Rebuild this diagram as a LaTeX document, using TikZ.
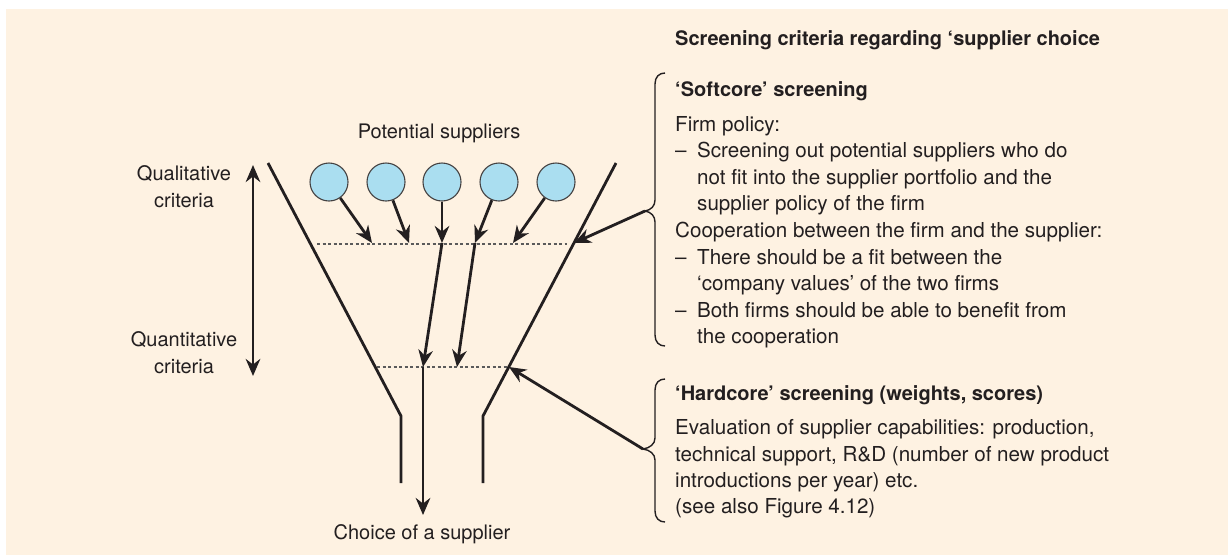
\documentclass[tikz,border=0pt]{standalone}
\usepackage{fontspec}
\setmainfont{TeX Gyre Heros}
\usetikzlibrary{arrows.meta}
\definecolor{bgc}{RGB}{254,242,226}
\definecolor{ink}{RGB}{35,31,32}
\definecolor{bluec}{RGB}{170,222,240}
\definecolor{dotc}{RGB}{90,90,90}
\newcommand{\dsh}{\makebox[22pt][l]{–}}
\begin{document}
\begin{tikzpicture}[x=1pt,y=-1pt,
  txt/.style={inner sep=0pt, text=ink, font=\fontsize{20}{24}\selectfont, anchor=base west},
  btxt/.style={txt, font=\fontsize{20.6}{24}\selectfont},
  ctxt/.style={txt, anchor=base},
  head/.style={txt, font=\fontsize{20}{24}\selectfont\bfseries},
  tip/.style={Stealth[length=17pt,width=14.5pt,inset=5.5pt]},
  arr/.style={draw=ink, line width=2.8pt, -{Stealth[length=17pt,width=14.5pt,inset=5.5pt]}},
  darr/.style={draw=ink, line width=2.8pt, {Stealth[length=17pt,width=14.5pt,inset=5.5pt]}-{Stealth[length=17pt,width=14.5pt,inset=5.5pt]}},
  funnel/.style={draw=ink, line width=2.8pt},
  dotl/.style={draw=dotc, line width=1.3pt, dash pattern=on 3pt off 2.5pt},
  bracel/.style={draw=ink, line width=1.4pt},
  sup/.style={circle, draw=ink!85, line width=1.1pt, fill=bluec, minimum size=38pt, inner sep=0pt}
]
\useasboundingbox (0,0) rectangle (1228,555);
\fill[bgc] (6,9) rectangle (1228,555);

% funnel
\coordinate (fl1) at (268,163); \coordinate (fl2) at (401,416); \coordinate (fl3) at (401,483);
\coordinate (fr1) at (616,163); \coordinate (fr2) at (483,416); \coordinate (fr3) at (483,483);
\draw[funnel] (fl1) -- (fl2) -- (fl3);
\draw[funnel] (fr1) -- (fr2) -- (fr3);

% dotted levels
\coordinate (d1a) at (317,244); \coordinate (d1b) at (567,244);
\coordinate (d2a) at (377,367); \coordinate (d2b) at (508,367);
\draw[dotl] (d1a) -- (d1b);
\draw[dotl] (d2a) -- (d2b);

% suppliers
\node[ctxt] (pot) at (439,138) {Potential suppliers};
\node[sup] (c1) at (329,182) {};
\node[sup] (c2) at (386,182) {};
\node[sup] (c3) at (442,182) {};
\node[sup] (c4) at (499,182) {};
\node[sup] (c5) at (556,182) {};

\coordinate (t1) at (372,243);
\coordinate (t2) at (409,243);
\coordinate (t3) at (442,243);
\coordinate (t4) at (475,243);
\coordinate (t5) at (513,243);
\draw[arr] (c1) -- (t1);
\draw[arr] (c2) -- (t2);
\draw[arr] (c3) -- (t3);
\draw[arr] (c4) -- (t4);
\draw[arr] (c5) -- (t5);

\coordinate (b1) at (423,367);
\coordinate (b2) at (457,367);
\coordinate (out) at (423,515);
\draw[arr] (t3) -- (b1);
\draw[arr] (t4) -- (b2);
\draw[arr] (b1) -- (out);
\node[ctxt] (choice) at (422,539) {Choice of a supplier};

% left scale
\coordinate (sa) at (253,165); \coordinate (sb) at (253,376);
\draw[darr] (sa) -- (sb);
\node[ctxt] (ql1) at (184,180) {Qualitative};
\node[ctxt] (ql2) at (184,207) {criteria};
\node[ctxt] (qn1) at (184,346) {Quantitative};
\node[ctxt] (qn2) at (184,373) {criteria};

% braces
\coordinate (p1) at (645,211);
\coordinate (p2) at (643,449);
\draw[bracel] (665,73) .. controls (659,73) and (655,77) .. (655,84) -- (655,200)
  .. controls (655,206) and (651,210) .. (p1) .. controls (651,212) and (655,216) .. (655,222)
  -- (655,335) .. controls (655,342) and (659,346) .. (665,346);
\draw[bracel] (665,379) .. controls (659,379) and (655,383) .. (655,390) -- (655,438)
  .. controls (655,444) and (650,448) .. (p2) .. controls (650,450) and (655,454) .. (655,460)
  -- (655,511) .. controls (655,518) and (659,522) .. (665,522);

\coordinate (h1) at (574,243);
\coordinate (h2) at (509,367);
\draw[arr] (p1) -- (h1);
\draw[arr] (p2) -- (h2);

% right text
\node[head] (title) at (675,45) {Screening criteria regarding ‘supplier choice};
\node[head] (soft) at (675,96) {‘Softcore’ screening};
\node[btxt] (s1) at (675,131) {Firm policy:};
\node[btxt] (s2) at (675,157) {\dsh Screening out potential suppliers who do};
\node[btxt] (s3) at (697,184) {not fit into the supplier portfolio and the};
\node[btxt] (s4) at (697,210) {supplier policy of the firm};
\node[btxt] (s5) at (675,237) {Cooperation between the firm and the supplier:};
\node[btxt] (s6) at (675,264) {\dsh There should be a fit between the};
\node[btxt] (s7) at (697,290) {‘company values’ of the two firms};
\node[btxt] (s8) at (675,317) {\dsh Both firms should be able to benefit from};
\node[btxt] (s9) at (697,343) {the cooperation};

\node[head] (hard) at (675,400) {‘Hardcore’ screening (weights, scores)};
\node[btxt] (r1) at (675,434) {Evaluation of supplier capabilities: production,};
\node[btxt] (r2) at (675,461) {technical support, R\&D (number of new product};
\node[btxt] (r3) at (675,487) {introductions per year) etc.};
\node[btxt] (r4) at (675,513) {(see also Figure 4.12)};
\end{tikzpicture}
\end{document}
